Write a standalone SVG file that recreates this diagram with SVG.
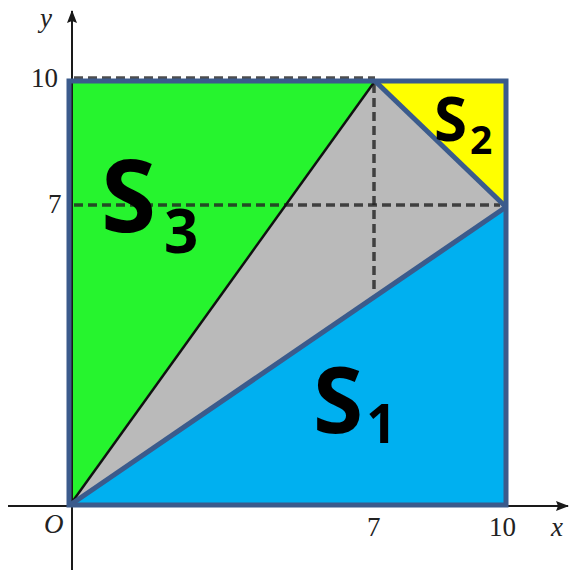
<svg xmlns="http://www.w3.org/2000/svg" width="570" height="571" viewBox="0 0 570 571">
<style>
.axis{stroke:#1a1a1a;stroke-width:2;fill:none}
.dash{stroke:#222;stroke-opacity:0.8;stroke-width:3.5;stroke-dasharray:9 5;fill:none}
.edge{stroke:#3b5b8c;stroke-width:5;fill:none;stroke-linejoin:miter}
.num{font-family:"Liberation Serif","DejaVu Serif",serif;font-size:27px;fill:#222}
.var{font-family:"Liberation Serif","DejaVu Serif",serif;font-style:italic;font-size:27px;fill:#222}
.big{font-family:"Open Sans","Liberation Sans",sans-serif;font-weight:bold;fill:#000}
</style>
<defs>
<marker id="arr" viewBox="0 0 13 10" refX="12" refY="5" markerWidth="6.5" markerHeight="5" orient="auto" markerUnits="strokeWidth">
<path d="M0,0 L13,5 L0,10 L2,5 Z" fill="#1a1a1a"/>
</marker>
</defs>
<g id="regions">
<polygon id="S3" points="70,505 70,81 375,81" fill="#26f42e"/>
<polygon id="gray" points="70,505 375,81 506,207" fill="#bababa"/>
<polygon id="S2" points="375,81 506,81 506,207" fill="#ffff00"/>
<polygon id="S1" points="70,505 506,207 506,505" fill="#00b0f0"/>
</g>
<g id="connectors">
<line class="axis" x1="8" y1="506" x2="568" y2="506" marker-end="url(#arr)"/>
<line class="axis" x1="72" y1="570" x2="72" y2="11" marker-end="url(#arr)"/>
<line class="dash" x1="74" y1="78" x2="375" y2="78"/>
<line class="dash" x1="374" y1="84" x2="374" y2="292"/>
<line class="dash" x1="74" y1="205" x2="500" y2="205"/>
<line x1="70" y1="505" x2="375" y2="81" stroke="#111" stroke-width="2.5"/>
<polyline class="edge" points="70,505 506,207"/>
<polyline class="edge" points="375,81 506,207"/>
<rect class="edge" x="69" y="81" width="437" height="424"/>
</g>
<g id="labels">
<text class="var" x="40" y="27">y</text>
<text class="num" x="31" y="87">10</text>
<text class="num" x="48" y="213">7</text>
<text class="var" x="44" y="533">O</text>
<text class="num" x="367" y="536">7</text>
<text class="num" x="489" y="536">10</text>
<text class="var" x="551" y="536">x</text>
<text class="big" x="101" y="232" font-size="100">S<tspan font-size="60" dx="8" dy="21">3</tspan></text>
<text class="big" x="313" y="433" font-size="91">S<tspan font-size="53" dx="3" dy="10">1</tspan></text>
<text class="big" x="434" y="141" font-size="60">S<tspan font-size="39" dx="3" dy="13">2</tspan></text>
</g>
</svg>
